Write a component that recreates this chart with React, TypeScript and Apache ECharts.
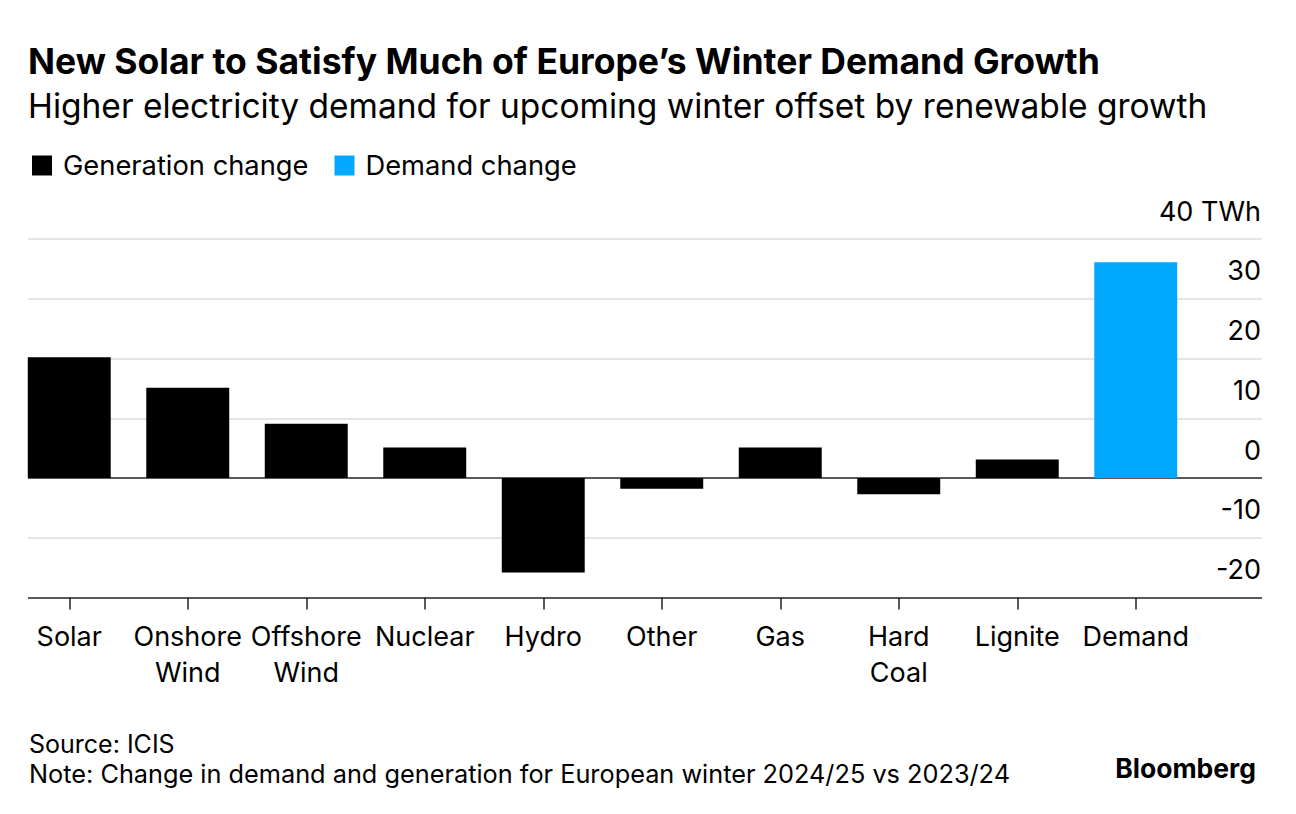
import React, { useEffect, useRef } from "react";
import * as echarts from "echarts";

const categories = ["Solar", "Onshore\nWind", "Offshore\nWind", "Nuclear", "Hydro", "Other", "Gas", "Hard\nCoal", "Lignite", "Demand"];
const generationChange = [20.2, 15.1, 9.1, 5.1, -15.8, -1.8, 5.1, -2.7, 3.1, null];
const demandChange = [null, null, null, null, null, null, null, null, null, 36.1];
const yMin = -20;
const yMax = 40;
const yInterval = 10;
const yUnit = "TWh";

const FONT = "Inter";

export default function App() {
  const ref = useRef<HTMLDivElement>(null);
  useEffect(() => {
    document.body.style.margin = "0";
    const chart = echarts.init(ref.current!, null, { renderer: "svg" });
    const gridTop = 239;
    const gridBottom = 814 - 597.5;
    const option: any = {
      animation: false,
      backgroundColor: "#ffffff",
      textStyle: { fontFamily: FONT },
      legend: {
        left: 32,
        top: 152,
        padding: 0,
        itemWidth: 20,
        itemHeight: 20,
        itemGap: 26,
        icon: "rect",
        selectedMode: false,
        data: ["Generation change", "Demand change"],
        textStyle: { fontFamily: FONT, fontSize: 27.3, color: "#000", padding: [0, 0, 0, 6] },
      },
      grid: [
        { left: 28, right: 34, top: gridTop, bottom: gridBottom },
        { left: 10, width: 1185, top: gridTop, bottom: gridBottom },
      ],
      xAxis: [
        { gridIndex: 0, type: "value", min: 0, max: 1, show: false },
        {
          gridIndex: 1,
          type: "category",
          data: categories,
          axisLine: { show: false, onZero: false },
          axisTick: { show: true, alignWithLabel: true, length: 12, lineStyle: { color: "#222", width: 1.5 } },
          axisLabel: { fontFamily: FONT, fontSize: 27, color: "#000", lineHeight: 36, margin: 21, interval: 0 },
        },
      ],
      yAxis: [
        {
          gridIndex: 0,
          type: "value",
          position: "right",
          min: yMin,
          max: yMax,
          interval: yInterval,
          axisLine: { show: false },
          axisTick: { show: false },
          splitLine: {
            show: true,
            lineStyle: { color: ["#222", "#dcdcdc", "#222", "#dcdcdc", "#dcdcdc", "#dcdcdc", "#dcdcdc"], width: 1.7 },
          },
          axisLabel: {
            inside: true,
            margin: 1,
            fontFamily: FONT,
            fontSize: 27,
            color: "#000",
            verticalAlign: "bottom",
            lineHeight: 56,
            formatter: (v: number) => (v === yMax ? `${v} ${yUnit}` : `${v}`),
          },
        },
        { gridIndex: 1, type: "value", min: yMin, max: yMax, interval: yInterval, show: false },
      ],
      series: [
        {
          name: "Generation change",
          type: "bar",
          xAxisIndex: 1,
          yAxisIndex: 1,
          stack: "all",
          barWidth: "70%",
          data: generationChange,
          itemStyle: { color: "#000000" },
        },
        {
          name: "Demand change",
          type: "bar",
          xAxisIndex: 1,
          yAxisIndex: 1,
          stack: "all",
          barWidth: "70%",
          data: demandChange,
          itemStyle: { color: "#00A9FF" },
        },
      ],
      graphic: [
        {
          type: "text",
          x: 28,
          y: 61,
          style: {
            text: "New Solar to Satisfy Much of Europe\u2019s Winter Demand Growth",
            fontFamily: FONT,
            fontWeight: "bold",
            fontSize: 35.5,
            fill: "#000",
            verticalAlign: "middle",
          },
        },
        {
          type: "text",
          x: 28,
          y: 106,
          style: {
            text: "Higher electricity demand for upcoming winter offset by renewable growth",
            fontFamily: FONT,
            fontSize: 33.5,
            fill: "#000",
            verticalAlign: "middle",
          },
        },
        {
          type: "text",
          x: 29,
          y: 744,
          style: { text: "Source: ICIS", fontFamily: FONT, fontSize: 25, fill: "#000", verticalAlign: "middle" },
        },
        {
          type: "text",
          x: 29,
          y: 773,
          style: {
            text: "Note: Change in demand and generation for European winter 2024/25 vs 2023/24",
            fontFamily: FONT,
            fontSize: 25.3,
            fill: "#000",
            verticalAlign: "middle",
          },
        },
        {
          type: "text",
          x: 1256,
          y: 768,
          style: {
            text: "Bloomberg",
            fontFamily: FONT,
            fontWeight: "bold",
            fontSize: 26.5,
            fill: "#000",
            align: "right",
            verticalAlign: "middle",
          },
        },
      ],
    };
    chart.setOption(option);
    return () => chart.dispose();
  }, []);
  return <div ref={ref} style={{ width: 1296, height: 814 }} />;
}
